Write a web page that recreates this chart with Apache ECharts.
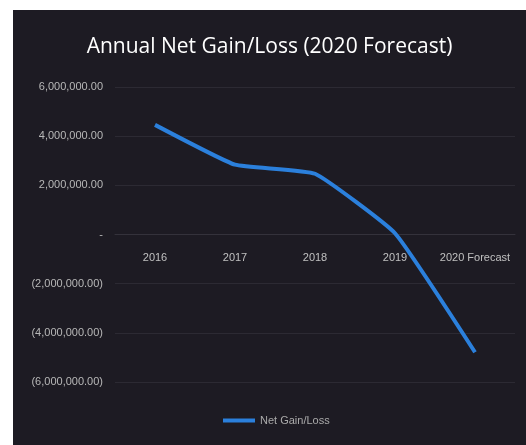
<!DOCTYPE html>
<html>
<head>
<meta charset="utf-8">
<script src="https://cdn.jsdelivr.net/npm/echarts@6/dist/echarts.min.js"></script>
<style>
  html, body { margin: 0; padding: 0; background: #ffffff; }
  #chart { position: absolute; left: 13px; top: 10px; width: 513px; height: 435px; }
</style>
</head>
<body>
<div id="chart"></div>
<script>
var years = ['2016', '2017', '2018', '2019', '2020 Forecast'];
var netGainLoss = [4460000, 2840000, 2470000, 50000, -4790000];
var seriesName = 'Net Gain/Loss';

// accounting style: 4,000,000.00 / - / (2,000,000.00)
function fmtMoney(v) {
  if (v === 0) return '-';
  var s = Math.abs(v).toFixed(2).replace(/\B(?=(\d{3})+(?!\d))/g, ',');
  return v < 0 ? '(' + s + ')' : s;
}

var myChart = echarts.init(document.getElementById('chart'));
var option = {
  backgroundColor: '#1d1b23',
  title: {
    text: 'Annual Net Gain/Loss (2020 Forecast)',
    left: 'center',
    top: 22,
    textStyle: {
      color: '#ffffff',
      fontSize: 21,
      fontWeight: 'normal',
      fontFamily: 'Open Sans'
    }
  },
  grid: { left: 102, right: 11, top: 77, bottom: 63 },
  legend: {
    bottom: 14,
    left: 205,
    itemWidth: 32,
    itemHeight: 4,
    icon: 'rect',
    textStyle: { color: '#aaaaaa', fontSize: 11, fontFamily: 'Liberation Sans' },
    data: [seriesName]
  },
  xAxis: {
    type: 'category',
    data: years,
    // sits on the zero line
    offset: -148,
    axisLine: { onZero: false, lineStyle: { color: '#34323b' } },
    axisTick: { show: false },
    axisLabel: { interval: 0, color: '#c0c0c0', fontSize: 11, margin: 18, fontFamily: 'Liberation Sans' }
  },
  yAxis: {
    type: 'value',
    min: -6000000,
    max: 6000000,
    interval: 2000000,
    axisLine: { show: false },
    axisTick: { show: false },
    axisLabel: {
      color: '#b8b8b8',
      fontSize: 11,
      margin: 12,
      fontFamily: 'Liberation Sans',
      formatter: fmtMoney
    },
    splitLine: { lineStyle: { color: '#2c2a33' } }
  },
  series: [
    {
      name: seriesName,
      type: 'line',
      data: netGainLoss,
      smooth: 0.12,
      showSymbol: false,
      color: '#2b80dc',
      lineStyle: { width: 4, color: '#2b80dc' }
    }
  ]
};
myChart.setOption(option);
</script>
</body>
</html>
